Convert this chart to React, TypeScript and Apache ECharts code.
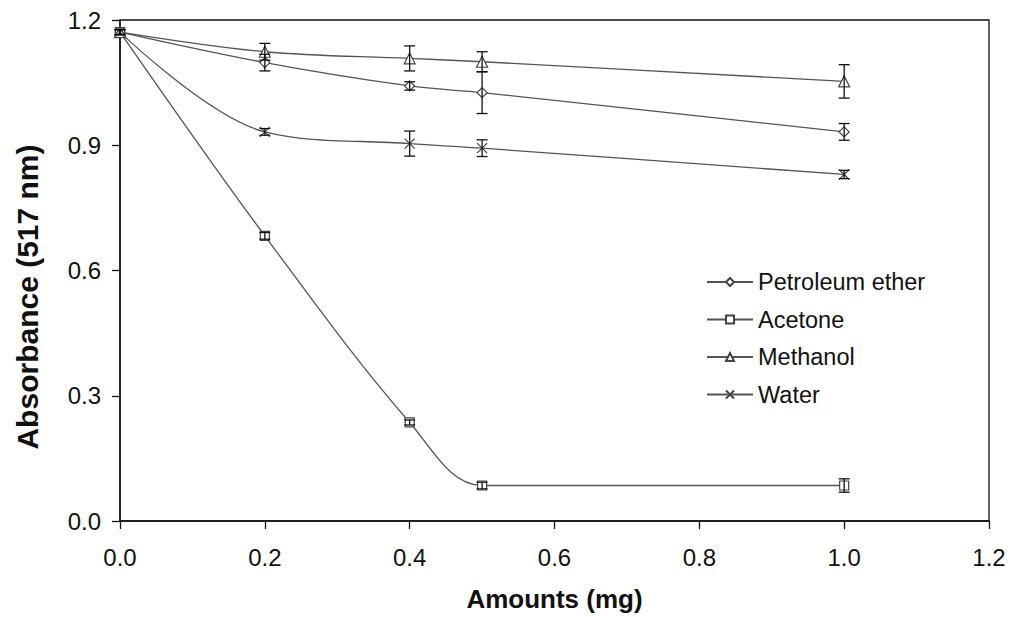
import React, { useEffect, useRef } from "react";
import * as echarts from "echarts";

const amounts = [0, 0.2, 0.4, 0.5, 1.0];
const seriesNames = ["Petroleum ether", "Acetone", "Methanol", "Water"];
const petroleum = [1.171, 1.098, 1.042, 1.026, 0.932];
const acetone = [1.171, 0.683, 0.236, 0.085, 0.085];
const methanol = [1.171, 1.124, 1.108, 1.1, 1.053];
const water = [1.171, 0.932, 0.904, 0.893, 0.83];
const petroleumErr = [0.006, 0.02, 0.01, 0.05, 0.02];
const acetoneErr = [0.006, 0.008, 0.006, 0.008, 0.016];
const methanolErr = [0.006, 0.02, 0.03, 0.024, 0.04];
const waterErr = [0.006, 0.008, 0.03, 0.02, 0.01];
const xTicks = [0, 0.2, 0.4, 0.6, 0.8, 1.0, 1.2];
const yTicks = [0, 0.3, 0.6, 0.9, 1.2];

const FONT = "'Liberation Sans', Arial, Helvetica, sans-serif";
const LINE = "#555";
const MARK = "#444";

const xSymbol = "path://M0,0L10,10M10,0L0,10";

export default function App() {
  const ref = useRef<HTMLDivElement>(null);
  useEffect(() => {
    document.body.style.margin = "0";
    if (!ref.current) return;
    const chart = echarts.init(ref.current, null, { renderer: "svg" });
    const values = [petroleum, acetone, methanol, water];
    const errs = [petroleumErr, acetoneErr, methanolErr, waterErr];
    const symbols = ["diamond", "rect", "triangle", xSymbol];
    const sizes = [10, 9, 11, 10];

    const lineSeries = seriesNames.map((name, i) => ({
      name,
      type: "line",
      smooth: 0.35,
      data: amounts.map((x, j) => [x, values[i][j]]),
      symbol: symbols[i],
      symbolSize: sizes[i],
      showAllSymbol: true,
      lineStyle: { color: LINE, width: 1.3 },
      itemStyle: { color: "#fff", borderColor: MARK, borderWidth: 1.2 },
      z: 3,
    }));

    const errorSeries = seriesNames.map((name, i) => ({
      name: name + " error",
      type: "custom",
      data: amounts.map((x, j) => [x, values[i][j] - errs[i][j], values[i][j] + errs[i][j]]),
      renderItem: (params: any, api: any) => {
        const x = api.value(0);
        const lo = api.coord([x, api.value(1)]);
        const hi = api.coord([x, api.value(2)]);
        const w = 5.5;
        const style = { stroke: "#111", lineWidth: 1.3 };
        return {
          type: "group",
          children: [
            { type: "line", shape: { x1: lo[0], y1: lo[1], x2: hi[0], y2: hi[1] }, style },
            { type: "line", shape: { x1: lo[0] - w, y1: lo[1], x2: lo[0] + w, y2: lo[1] }, style },
            { type: "line", shape: { x1: hi[0] - w, y1: hi[1], x2: hi[0] + w, y2: hi[1] }, style },
          ],
        };
      },
      z: 4,
      silent: true,
    }));

    chart.setOption({
      animation: false,
      backgroundColor: "#fff",
      grid: {
        left: 120,
        top: 20,
        right: 21,
        bottom: 95,
        show: true,
        borderColor: "#111",
        borderWidth: 1.3,
        backgroundColor: "transparent",
      },
      legend: {
        data: seriesNames,
        orient: "vertical",
        left: 701,
        top: 265,
        itemWidth: 46,
        itemHeight: 10,
        itemGap: 13.5,
        textStyle: { fontFamily: FONT, fontSize: 23.5, color: "#111" },
        inactiveColor: "#ccc",
      },
      xAxis: {
        type: "value",
        min: xTicks[0],
        max: xTicks[xTicks.length - 1],
        interval: 0.2,
        name: "Amounts (mg)",
        nameLocation: "middle",
        nameGap: 65,
        nameTextStyle: { fontFamily: FONT, fontSize: 26, fontWeight: "bold", color: "#111" },
        axisLine: { show: true, lineStyle: { color: "#111", width: 1.5 } },
        axisTick: { show: true, inside: false, length: 8, lineStyle: { color: "#111", width: 1.3 } },
        axisLabel: {
          fontFamily: FONT,
          fontSize: 24,
          color: "#111",
          margin: 24,
          formatter: (v: number) => v.toFixed(1),
        },
        splitLine: { show: false },
      },
      yAxis: {
        type: "value",
        min: yTicks[0],
        max: yTicks[yTicks.length - 1],
        interval: 0.3,
        axisLine: { show: true, lineStyle: { color: "#111", width: 1.5 } },
        axisTick: { show: true, inside: false, length: 8, lineStyle: { color: "#111", width: 1.3 } },
        axisLabel: {
          fontFamily: FONT,
          fontSize: 24,
          color: "#111",
          margin: 19,
          formatter: (v: number) => v.toFixed(1),
        },
        splitLine: { show: false },
      },
      graphic: [
        {
          type: "text",
          x: 27,
          y: 297,
          rotation: Math.PI / 2,
          style: {
            text: "Absorbance (517 nm)",
            font: `bold 30px ${FONT}`,
            fill: "#111",
            textAlign: "center",
            textVerticalAlign: "middle",
          },
        },
      ],
      series: [...errorSeries, ...lineSeries],
    });
    return () => chart.dispose();
  }, []);
  return <div ref={ref} style={{ width: 1010, height: 617 }} />;
}
